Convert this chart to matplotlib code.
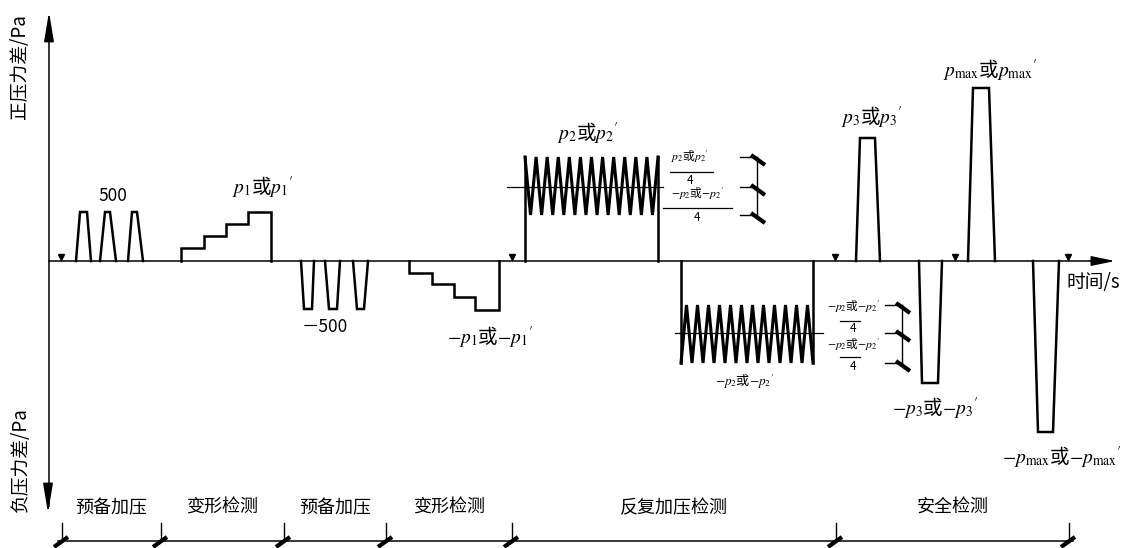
import numpy as np
import matplotlib
matplotlib.use('Agg')
import matplotlib.pyplot as plt

plt.rcParams['font.family'] = ['Noto Sans CJK SC', 'DejaVu Sans']
plt.rcParams['mathtext.fontset'] = 'stix'

# time axis is in arbitrary units, pressure in arbitrary schematic units (0 = axis)
# pre-loading pulses (rise start, rise end, fall start, fall end)
pre_pos = [(76, 80, 87, 91), (100, 105, 110, 116), (128, 132, 137, 143)]
pre_pos_h = 49
pre_neg = [(301, 304, 312, 314), (325, 329, 337, 340), (353, 357, 364, 368)]
pre_neg_h = -48

# deformation steps
step_pos_t = [181, 204, 226, 248, 271]
step_pos_p = [13, 25, 37, 49]
step_neg_t = [409, 432, 454, 475, 499]
step_neg_p = [-12, -23, -36, -49]

# repeated loading blocks: start, end, high, low, mean, cycles, mean line span
rep_pos = dict(t0=525, t1=658, hi=104, lo=46, mid=74, n=12, m0=507, m1=663)
rep_neg = dict(t0=681, t1=813, hi=-44, lo=-102, mid=-72, n=12, m0=675, m1=823)

# safety pulses
safe_pulses = [((856, 860, 875, 880), 123), ((919, 922, 938, 942), -122),
               ((968, 973, 989, 995), 173), ((1033, 1038, 1053, 1059), -171)]

# markers on the time axis
marks_t = [61, 512, 835, 955, 1068]

# stages along the bottom
stage_ticks = [62, 161, 284, 386, 512, 836, 1069]
stage_names = ['预备加压', '变形检测', '预备加压', '变形检测', '反复加压检测', '安全检测']

LW = 1.8
fig = plt.figure(figsize=(11.26, 5.48), dpi=100)
ax = fig.add_axes([0, 0, 1, 1])
ax.set_xlim(0, 1126)
ax.set_ylim(-287, 261)
ax.axis('off')


def trap(t, h):
    ax.plot([t[0], t[1], t[2], t[3]], [0, h, h, 0], color='black', lw=LW,
            solid_joinstyle='miter')


for p in pre_pos:
    trap(p, pre_pos_h)
for p in pre_neg:
    trap(p, pre_neg_h)

# steps
for st_t, st_p in [(step_pos_t, step_pos_p), (step_neg_t, step_neg_p)]:
    xs, ys = [st_t[0]], [0]
    for i, lev in enumerate(st_p):
        xs += [st_t[i], st_t[i + 1]]
        ys += [lev, lev]
    xs.append(st_t[-1]); ys.append(0)
    ax.plot(xs, ys, color='black', lw=LW, solid_joinstyle='miter')


def block(b, start_hi):
    a, c = (b['hi'], b['lo']) if start_hi else (b['lo'], b['hi'])
    ax.plot([b['t0'], b['t0']], [0, a], color='black', lw=LW)
    ax.plot([b['t1'], b['t1']], [0, a], color='black', lw=LW)
    zt = np.linspace(b['t0'], b['t1'], 2 * b['n'] + 1)
    zp = [a if i % 2 == 0 else c for i in range(len(zt))]
    ax.plot(zt, zp, color='black', lw=2.2, solid_joinstyle='miter')
    ax.plot([b['m0'], b['m1']], [b['mid'], b['mid']], color='black', lw=0.9)


block(rep_pos, True)
block(rep_neg, False)

for t, h in safe_pulses:
    trap(t, h)

# axes
ax.plot([49, 1100], [0, 0], color='black', lw=1.1)
ax.annotate('', xy=(1115, 0), xytext=(1095, 0),
            arrowprops=dict(arrowstyle='-|>,head_length=1.2,head_width=0.25', color='black',
                            lw=1.1, mutation_scale=12, shrinkA=0, shrinkB=0))
ax.plot([49, 49], [-245, 240], color='black', lw=1.1)
ax.annotate('', xy=(49, 249), xytext=(49, 230),
            arrowprops=dict(arrowstyle='-|>,head_length=1.5,head_width=0.25', color='black',
                            lw=1.1, mutation_scale=12, shrinkA=0, shrinkB=0))
ax.annotate('', xy=(48, -252), xytext=(48, -235),
            arrowprops=dict(arrowstyle='-|>,head_length=1.5,head_width=0.25', color='black',
                            lw=1.1, mutation_scale=12, shrinkA=0, shrinkB=0))
ax.plot(marks_t, [4] * len(marks_t), 'v', color='black', ms=5)


def slash(x, y, sign):
    ax.plot([x - 7, x + 7], [y - 5 * sign, y + 5 * sign], color='black', lw=3,
            solid_capstyle='butt')


# brackets beside the repeated loading blocks
for b, bx in [(rep_pos, 757), (rep_neg, 902)]:
    levels = [b['hi'], b['mid'], b['lo']]
    ax.plot([bx, bx], [min(levels), max(levels)], color='black', lw=1.0)
    for lev in levels:
        ax.plot([bx - 17, bx], [lev, lev], color='black', lw=1.0)
        slash(bx + 1, lev - 3, -1)

# stage timeline
tl_y = -280
ax.plot([stage_ticks[0] - 4, stage_ticks[-1] + 4], [tl_y, tl_y], color='black', lw=1.1)
for x in stage_ticks:
    ax.plot([x, x], [tl_y, tl_y + 18], color='black', lw=1.0)
    slash(x - 1, tl_y - 1, 1)
for i, name in enumerate(stage_names):
    ax.text((stage_ticks[i] + stage_ticks[i + 1]) / 2, -247, name, ha='center', va='center',
            fontsize=13)

# labels
fs = 14
ax.text(20, 194, '正压力差/Pa', rotation=90, ha='center', va='center', fontsize=13.5)
ax.text(20, -199, '负压力差/Pa', rotation=90, ha='center', va='center', fontsize=13.5)
ax.text(1093, -21, '时间/s', ha='center', va='center', fontsize=13.5)
ax.text(113, 65, '500', ha='center', va='center', fontsize=12.5)
ax.text(325, -66, '－500', ha='center', va='center', fontsize=12.5)
ax.text(263, 74, "$p_1$或$p_1{'}$", ha='center', va='center', fontsize=fs)
ax.text(490, -76, "$-p_1$或$-p_1{'}$", ha='center', va='center', fontsize=fs)
ax.text(588, 128, "$p_2$或$p_2{'}$", ha='center', va='center', fontsize=fs)
ax.text(745, -121, "$-p_2$或$-p_2{'}$", ha='center', va='center', fontsize=9.5)
ax.text(872, 144, "$p_3$或$p_3{'}$", ha='center', va='center', fontsize=fs)
ax.text(990, 191, "$p_{\\mathrm{max}}$或$p_{\\mathrm{max}}{'}$", ha='center', va='center', fontsize=fs)
ax.text(935, -147, "$-p_3$或$-p_3{'}$", ha='center', va='center', fontsize=fs)
ax.text(1062, -196, "$-p_{\\mathrm{max}}$或$-p_{\\mathrm{max}}{'}$", ha='center', va='center',
        fontsize=fs)


def frac(xc, y_num, y_bar, bar, y_den, num):
    ax.text(xc, y_num, num, ha='center', va='center', fontsize=8.5)
    ax.plot(bar, [y_bar, y_bar], color='black', lw=0.9)
    ax.text(xc, y_den, '4', ha='center', va='center', fontsize=8.5)


frac(690, 104, 89, [670, 713], 81, "$p_2$或$p_2{'}$")
frac(697, 67, 53, [663, 732], 44, "$-p_2$或$-p_2{'}$")
frac(853, -46, -60, [840, 860], -67, "$-p_2$或$-p_2{'}$")
frac(853, -84, -96, [840, 860], -105, "$-p_2$或$-p_2{'}$")

fig.savefig('out.png', dpi=100)
